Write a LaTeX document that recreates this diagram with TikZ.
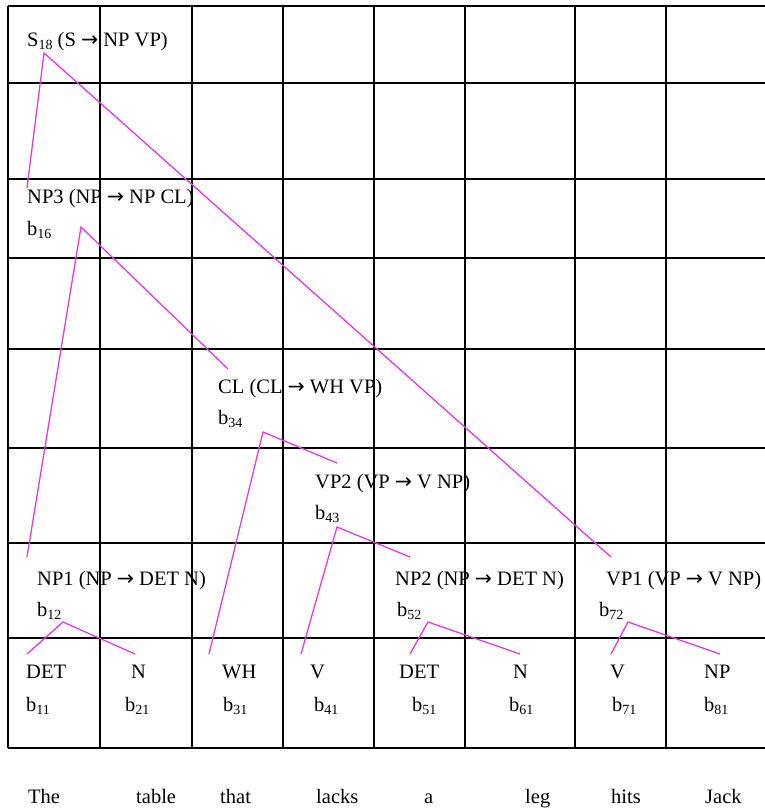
\documentclass[tikz,border=0pt]{standalone}
\usepackage{fontspec}
\setmainfont{Liberation Serif}
\newfontfamily\arrowfont{DejaVu Sans}
\newcommand{\myarr}{{\arrowfont\char"2192}}
\newcommand{\sbs}[1]{\raisebox{-0.35ex}{\fontsize{14}{14}\selectfont #1}}
\definecolor{treecol}{RGB}{225,60,225}
\begin{document}
\begin{tikzpicture}[x=1pt,y=-1pt,
  lbl/.style={anchor=base west, inner sep=0pt, font=\fontsize{20.5}{20.5}\selectfont},
  gridline/.style={draw=black, line width=1.4pt},
  treeline/.style={draw=treecol, line width=1.3pt}]
\useasboundingbox[fill=white] (0,0) rectangle (765,809);
% grid
\foreach \x in {8,100,192,283,374,465,575,666}
  \draw[gridline] (\x,6) -- (\x,748);
\foreach \y in {6,83,179,258,349,448,543,638,748}
  \draw[gridline] (8,\y) -- (765,\y);
% labels
\node[lbl] (s18) at (27,46) {S\sbs{18} (S \myarr\ NP VP)};
\node[lbl] (np3) at (27,203) {NP3 (NP \myarr\ NP CL)};
\node[lbl] (b16) at (27,235) {b\sbs{16}};
\node[lbl] (cl) at (218,393) {CL (CL \myarr\ WH VP)};
\node[lbl] (b34) at (218,424) {b\sbs{34}};
\node[lbl] (vp2) at (315,488) {VP2 (VP \myarr\ V NP)};
\node[lbl] (b43) at (315,519) {b\sbs{43}};
\node[lbl] (np1) at (37,585) {NP1 (NP \myarr\ DET N)};
\node[lbl] (b12) at (37,616) {b\sbs{12}};
\node[lbl] (np2) at (395,585) {NP2 (NP \myarr\ DET N)};
\node[lbl] (b52) at (397,616) {b\sbs{52}};
\node[lbl] (vp1) at (606,585) {VP1 (VP \myarr\ V NP)};
\node[lbl] (b72) at (599,616) {b\sbs{72}};
\node[lbl] (det1) at (26,678) {DET};
\node[lbl] (b11) at (26,711) {b\sbs{11}};
\node[lbl] (n1) at (131,678) {N};
\node[lbl] (b21) at (125,711) {b\sbs{21}};
\node[lbl] (wh) at (222,678) {WH};
\node[lbl] (b31) at (223,711) {b\sbs{31}};
\node[lbl] (v1) at (310,678) {V};
\node[lbl] (b41) at (314,711) {b\sbs{41}};
\node[lbl] (det2) at (399,678) {DET};
\node[lbl] (b51) at (412,711) {b\sbs{51}};
\node[lbl] (n2) at (513,678) {N};
\node[lbl] (b61) at (509,711) {b\sbs{61}};
\node[lbl] (v2) at (610,678) {V};
\node[lbl] (b71) at (612,711) {b\sbs{71}};
\node[lbl] (np) at (704,678) {NP};
\node[lbl] (b81) at (704,711) {b\sbs{81}};
% words
\node[lbl] (w1) at (28,803) {The};
\node[lbl] (w2) at (136,803) {table};
\node[lbl] (w3) at (220,803) {that};
\node[lbl] (w4) at (316,803) {lacks};
\node[lbl] (w5) at (424,803) {a};
\node[lbl] (w6) at (525,803) {leg};
\node[lbl] (w7) at (611,803) {hits};
\node[lbl] (w8) at (705,803) {Jack};
% tree coordinates
\coordinate (aS) at (44,53);
\coordinate (eNP3) at (27,188);
\coordinate (eVP1) at (611,557);
\coordinate (aNP3) at (81,227);
\coordinate (eNP1) at (27,557);
\coordinate (eCL) at (228,369);
\coordinate (aCL) at (263,432);
\coordinate (eWH) at (209,654);
\coordinate (eVP2) at (337,463);
\coordinate (aVP2) at (337,527);
\coordinate (eV1) at (301,654);
\coordinate (eNP2) at (410,557);
\coordinate (aNP1) at (63,622);
\coordinate (eDET1) at (27,654);
\coordinate (eN1) at (135,654);
\coordinate (aNP2) at (428,622);
\coordinate (eDET2) at (410,654);
\coordinate (eN2) at (520,654);
\coordinate (aVP1) at (628,622);
\coordinate (eV2) at (611,654);
\coordinate (eNP) at (720,654);
% tree lines
\draw[treeline] (eNP3) -- (aS) -- (eVP1);
\draw[treeline] (eNP1) -- (aNP3) -- (eCL);
\draw[treeline] (eWH) -- (aCL) -- (eVP2);
\draw[treeline] (eV1) -- (aVP2) -- (eNP2);
\draw[treeline] (eDET1) -- (aNP1) -- (eN1);
\draw[treeline] (eDET2) -- (aNP2) -- (eN2);
\draw[treeline] (eV2) -- (aVP1) -- (eNP);
\end{tikzpicture}
\end{document}
